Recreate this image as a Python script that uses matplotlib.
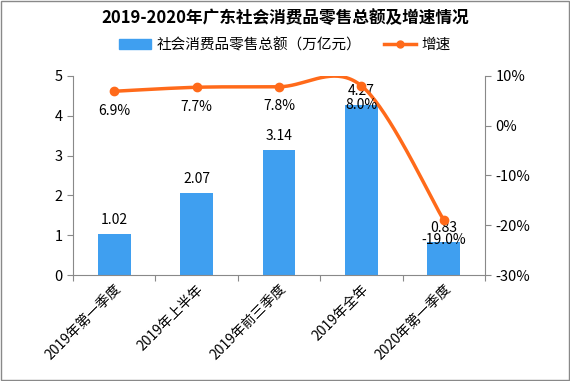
import numpy as np
import matplotlib.pyplot as plt
from matplotlib.lines import Line2D
from matplotlib.patches import Patch

plt.rcParams['font.family'] = ['Noto Sans CJK SC', 'DejaVu Sans']
plt.rcParams['axes.unicode_minus'] = False

categories = ["2019年第一季度", "2019年上半年", "2019年前三季度", "2019年全年", "2020年第一季度"]
sales = [1.02, 2.07, 3.14, 4.27, 0.83]
growth = [6.9, 7.7, 7.8, 8.0, -19.0]

BLUE = "#3F9FF0"
ORANGE = "#FF6A1A"
GRAY = "#898989"


def smooth(xs, ys, n=40):
    # excel-style smoothed line (catmull-rom through the points)
    xs = np.asarray(xs, float)
    ys = np.asarray(ys, float)
    px, py = [], []
    for i in range(len(xs) - 1):
        x0, y0 = (xs[i - 1], ys[i - 1]) if i > 0 else (xs[i], ys[i])
        x3, y3 = (xs[i + 2], ys[i + 2]) if i + 2 < len(xs) else (xs[i + 1], ys[i + 1])
        x1, y1, x2, y2 = xs[i], ys[i], xs[i + 1], ys[i + 1]
        c1x, c1y = x1 + (x2 - x0) / 6, y1 + (y2 - y0) / 6
        c2x, c2y = x2 - (x3 - x1) / 6, y2 - (y3 - y1) / 6
        t = np.linspace(0, 1, n)
        a, b, c, d = (1 - t) ** 3, 3 * (1 - t) ** 2 * t, 3 * (1 - t) * t ** 2, t ** 3
        px.extend(a * x1 + b * c1x + c * c2x + d * x2)
        py.extend(a * y1 + b * c1y + c * c2y + d * y2)
    return np.array(px), np.array(py)


fig = plt.figure(figsize=(5.7, 3.81), dpi=100)
fig.patches.append(plt.Rectangle((0.002, 0.003), 0.996, 0.994, transform=fig.transFigure,
                                 fill=False, edgecolor=GRAY, linewidth=1))
ax = fig.add_axes([0.128, 0.278, 0.723, 0.523])
x = np.arange(len(categories))

ax.bar(x, sales, width=0.4, color=BLUE, zorder=2)
for xi, v in zip(x, sales):
    ax.annotate(f"{v:.2f}", (xi, v), xytext=(0, 5), textcoords="offset points",
                ha="center", va="bottom", fontsize=10, color="black")
ax.set_ylim(0, 5)
ax.set_xlim(-0.5, len(categories) - 0.5)
ax.set_yticks(np.arange(0, 6, 1))
ax.set_xticks(np.arange(-0.5, len(categories), 1), minor=False)
ax.set_xticklabels([])
ax.set_xticks(x, minor=True)
ax.set_xticklabels(categories, minor=True, rotation=45, ha="right", va="top",
                   rotation_mode="anchor", fontsize=10)
ax.tick_params(axis="x", which="minor", length=0, pad=5)
ax.tick_params(axis="x", which="major", length=4, color=GRAY)
ax.tick_params(axis="y", length=4, color=GRAY, labelsize=10.5)

ax2 = ax.twinx()
sx, sy = smooth(x, growth)
ax2.plot(sx, sy, color=ORANGE, linewidth=2.5, zorder=3)
ax2.plot(x, growth, "o", color=ORANGE, markersize=6, zorder=4)
for xi, v in zip(x, growth):
    ax2.annotate(f"{v:.1f}%", (xi, v), xytext=(0, -9), textcoords="offset points",
                 ha="center", va="top", fontsize=10, color="black")
ax2.set_ylim(-30, 10)
ax2.set_yticks(np.arange(-30, 11, 10))
ax2.set_yticklabels([f"{t}%" for t in range(-30, 11, 10)])
ax2.tick_params(axis="y", length=4, color=GRAY, labelsize=10.5)

for a in (ax, ax2):
    for s in a.spines.values():
        s.set_visible(False)
ax.spines["left"].set_visible(True)
ax.spines["bottom"].set_visible(True)
ax2.spines["right"].set_visible(True)
for s in (ax.spines["left"], ax.spines["bottom"], ax2.spines["right"]):
    s.set_color(GRAY)

fig.text(0.5, 0.952, "2019-2020年广东社会消费品零售总额及增速情况", ha="center", va="center",
         fontsize=12, fontweight="bold")
handles = [Patch(color=BLUE),
           Line2D([0], [0], color=ORANGE, linewidth=2.5, marker="o", markersize=5)]
fig.legend(handles, ["社会消费品零售总额（万亿元）", "增速"], loc="center",
           bbox_to_anchor=(0.5, 0.882), ncol=2, frameon=False, fontsize=10.5,
           handlelength=2.2, handleheight=0.6, columnspacing=1.5, handletextpad=0.4)

fig.savefig("out.png", dpi=100)
